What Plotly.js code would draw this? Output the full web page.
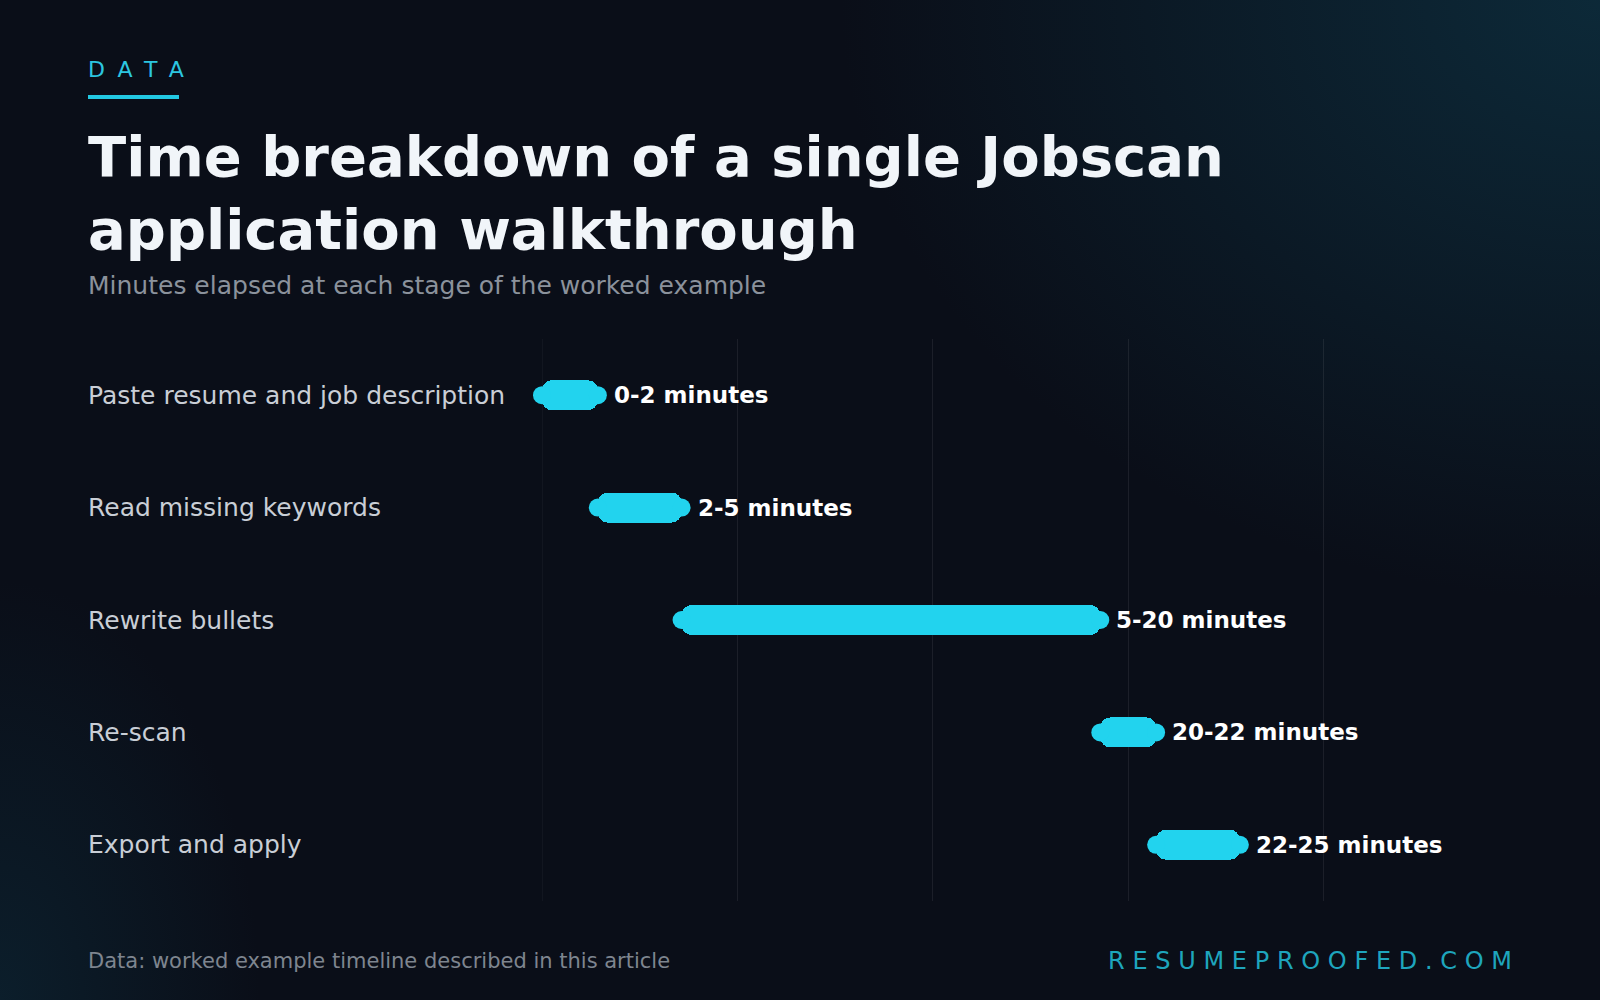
<!DOCTYPE html>
<html><head><meta charset="utf-8">
<script src="https://cdn.plot.ly/plotly-3.0.1.min.js"></script>
<style>
html,body{margin:0;padding:0;width:1600px;height:1000px;overflow:hidden;}
body{background:
 radial-gradient(ellipse 760px 600px at 100% 0%, rgba(13,46,62,0.85), rgba(13,46,62,0) 100%),
 radial-gradient(ellipse 260px 420px at 0% 100%, rgba(13,46,62,0.5), rgba(13,46,62,0) 100%),
 #0a0e18;}
#chart{width:1600px;height:1000px;}
text.annotation-text[data-unformatted="DATA"]{letter-spacing:13px;}
text.annotation-text[data-unformatted="RESUMEPROOFED.COM"]{letter-spacing:7.7px;}
</style></head>
<body>
<div id="chart"></div>
<script>
// ---- data ----
const stages = ["Paste resume and job description", "Read missing keywords", "Rewrite bullets", "Re-scan", "Export and apply"];
const startMin = [0, 2, 5, 20, 22];
const endMin = [2, 5, 20, 22, 25];
const rangeLabels = ["0-2 minutes", "2-5 minutes", "5-20 minutes", "20-22 minutes", "22-25 minutes"];
const gridTicks = [0, 7, 14, 21, 28];

// ---- layout geometry (pixels) ----
const W = 1600, H = 1000;
const M = {l: 542, r: 81, t: 339, b: 99};
const PW = W - M.l - M.r, PH = H - M.t - M.b;
const px = x => (x - M.l) / PW;          // page x -> paper x
const py = y => (H - M.b - y) / PH;      // page y -> paper y

const FONT = "DejaVu Sans";
const CYAN = "#22d3ee";

const durations = endMin.map((e, i) => e - startMin[i]);

const barTrace = {
  type: "bar", orientation: "h",
  y: stages, x: durations, base: startMin,
  width: 0.267,
  marker: {color: CYAN, cornerradius: 10, line: {width: 0}},
  cliponaxis: false,
  hoverinfo: "skip", showlegend: false
};
const dotTrace = {
  type: "scatter", mode: "markers",
  x: startMin.concat(endMin), y: stages.concat(stages),
  marker: {color: CYAN, size: 18, line: {width: 0}},
  cliponaxis: false,
  hoverinfo: "skip", showlegend: false
};

const annotations = [];
stages.forEach((s, i) => {
  annotations.push({
    xref: "paper", yref: "y", x: 0, y: s, xshift: 86 - M.l,
    xanchor: "left", yanchor: "middle", showarrow: false,
    text: s, font: {family: FONT, size: 25, color: "#c9ced6"}
  });
  annotations.push({
    xref: "x", yref: "y", x: endMin[i], y: s, xshift: 14,
    xanchor: "left", yanchor: "middle", showarrow: false,
    text: "<b>" + rangeLabels[i] + "</b>", font: {family: FONT, size: 23, color: "#ffffff"}
  });
});
annotations.push({
  xref: "paper", yref: "paper", x: px(86), y: py(69), xanchor: "left", yanchor: "middle",
  showarrow: false, text: "DATA", font: {family: FONT, size: 22, color: "#2cc6e0"}
});
annotations.push({
  xref: "paper", yref: "paper", x: px(86), y: py(285), xanchor: "left", yanchor: "middle",
  showarrow: false, text: "Minutes elapsed at each stage of the worked example",
  font: {family: FONT, size: 25, color: "#8b929c"}
});
annotations.push({
  xref: "paper", yref: "paper", x: px(86), y: py(961), xanchor: "left", yanchor: "middle",
  showarrow: false, text: "Data: worked example timeline described in this article",
  font: {family: FONT, size: 21, color: "#7e858f"}
});
annotations.push({
  xref: "paper", yref: "paper", x: px(1106), y: py(960.5), xanchor: "left", yanchor: "middle",
  showarrow: false, text: "RESUMEPROOFED.COM",
  font: {family: FONT, size: 24, color: "#1ea5bd"}
});

const layout = {
  width: W, height: H,
  paper_bgcolor: "rgba(0,0,0,0)", plot_bgcolor: "rgba(0,0,0,0)",
  margin: M,
  font: {family: FONT, color: "#c9ced6"},
  title: {
    text: "Time breakdown of a single Jobscan<br>application walkthrough",
    xref: "container", yref: "container", x: 88 / W, xanchor: "left",
    y: 1 - 176 / H, yanchor: "top",
    font: {family: FONT, size: 56, weight: 700, color: "#f1f5f9"}
  },
  xaxis: {
    range: [0, 35], tickmode: "array", tickvals: gridTicks, showticklabels: false,
    showgrid: true, gridcolor: "rgba(255,255,255,0.075)", gridwidth: 1,
    zeroline: false, showline: false, ticks: "", fixedrange: true
  },
  yaxis: {
    type: "category", autorange: "reversed", showticklabels: false, showgrid: false,
    zeroline: false, showline: false, ticks: "", fixedrange: true
  },
  shapes: [
    {
      type: "line", xref: "x", yref: "paper", x0: gridTicks[0], x1: gridTicks[0], y0: 0, y1: 1,
      layer: "below", line: {color: "rgba(255,255,255,0.075)", width: 1}
    },
    {
      type: "rect", xref: "paper", yref: "paper",
      x0: px(88), x1: px(179), y0: py(99), y1: py(95),
      fillcolor: "#22c8e2", line: {width: 0}
    }
  ],
  annotations: annotations,
  showlegend: false,
  bargap: 0
};

Plotly.newPlot("chart", [barTrace, dotTrace], layout, {displayModeBar: false, staticPlot: true});
</script>
</body></html>
